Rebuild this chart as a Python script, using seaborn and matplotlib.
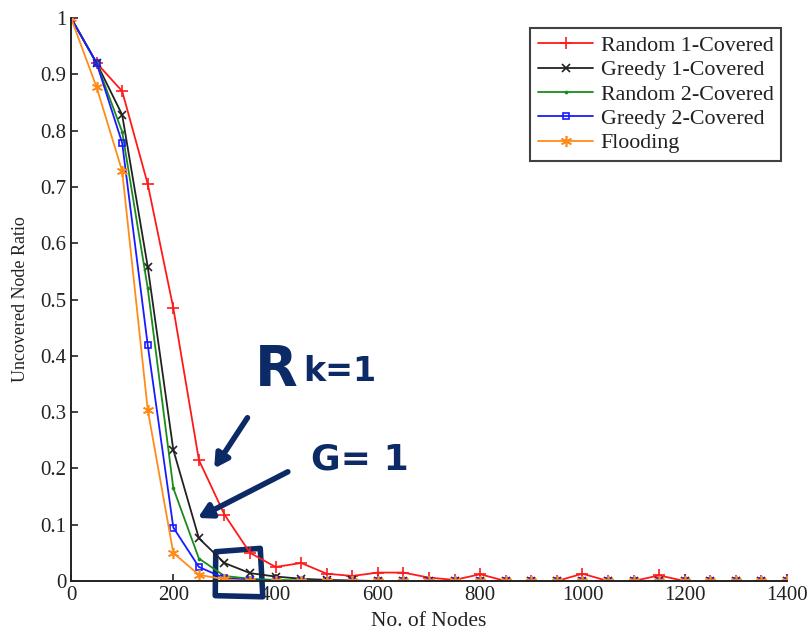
import matplotlib
matplotlib.use("Agg")
import matplotlib.pyplot as plt
import seaborn as sns
import numpy as np
from matplotlib.ticker import FuncFormatter
from matplotlib.patches import Polygon

nodes = list(range(0, 1401, 50))

random1 = [1.0, 0.92, 0.87, 0.705, 0.485, 0.215, 0.118, 0.05, 0.025, 0.032, 0.013, 0.009,
           0.015, 0.015, 0.006, 0.002, 0.012, 0.0, 0.0, 0.0, 0.013, 0.0, 0.0, 0.01,
           0.0, 0.0, 0.0, 0.0, 0.0]
greedy1 = [1.0, 0.92, 0.828, 0.558, 0.233, 0.076, 0.032, 0.014, 0.008, 0.004, 0.002, 0.001,
           0.0, 0.0, 0.0, 0.0, 0.0, 0.0, 0.0, 0.0, 0.0, 0.0, 0.0, 0.0,
           0.0, 0.0, 0.0, 0.0, 0.0]
random2 = [1.0, 0.92, 0.798, 0.52, 0.165, 0.04, 0.009, 0.004, 0.002, 0.001, 0.0, 0.0,
           0.0, 0.0, 0.0, 0.0, 0.0, 0.0, 0.0, 0.0, 0.0, 0.0, 0.0, 0.0,
           0.0, 0.0, 0.0, 0.0, 0.0]
greedy2 = [1.0, 0.92, 0.778, 0.419, 0.095, 0.025, 0.005, 0.002, 0.0, 0.0, 0.0, 0.0,
           0.0, 0.0, 0.0, 0.0, 0.0, 0.0, 0.0, 0.0, 0.0, 0.0, 0.0, 0.0,
           0.0, 0.0, 0.0, 0.0, 0.0]
flooding = [1.0, 0.877, 0.728, 0.304, 0.05, 0.011, 0.003, 0.0, 0.0, 0.0, 0.0, 0.0,
            0.0, 0.0, 0.0, 0.0, 0.0, 0.0, 0.0, 0.0, 0.0, 0.0, 0.0, 0.0,
            0.0, 0.0, 0.0, 0.0, 0.0]

labels = ["Random 1-Covered", "Greedy 1-Covered", "Random 2-Covered",
          "Greedy 2-Covered", "Flooding"]
series = [random1, greedy1, random2, greedy2, flooding]
colors = ["#ff1a1a", "#222222", "#1a8c1a", "#1a1aff", "#ff8c1a"]
markers = ["+", "x", ".", "s", (6, 2, 0)]
msizes = [9, 6, 3, 5, 8]

xticks = list(range(0, 1401, 200))
yticks = [round(v * 0.1, 1) for v in range(0, 11)]

sns.set_style("ticks")
plt.rcParams["font.family"] = ["Liberation Serif", "DejaVu Serif"]
plt.rcParams["mathtext.fontset"] = "stix"

fig = plt.figure(figsize=(8.09, 6.31), dpi=100)
ax = fig.add_axes([0.0878, 0.0792, 0.885, 0.8923])

for lab, vals, c, m, ms in zip(labels, series, colors, markers, msizes):
    kw = dict(markerfacecolor="none") if m == "s" else {}
    sns.lineplot(x=nodes, y=vals, ax=ax, color=c, marker=m, markersize=ms,
                 markeredgecolor=c, markeredgewidth=1.2, linewidth=1.3,
                 label=lab, **kw)

ax.set_xlim(0, 1400)
ax.set_ylim(0, 1)
ax.set_xticks(xticks)
ax.set_yticks(yticks)
ax.yaxis.set_major_formatter(FuncFormatter(lambda v, p: "%g" % v))
ax.tick_params(direction="in", length=5, width=1.2, labelsize=15, colors="#222222")
for s in ["top", "right"]:
    ax.spines[s].set_visible(False)
for s in ["left", "bottom"]:
    ax.spines[s].set_linewidth(1.4)
    ax.spines[s].set_color("#222222")

ax.set_xlabel("No. of Nodes", fontsize=15.5, color="#222222", labelpad=5)
ax.set_ylabel("Uncovered Node Ratio", fontsize=13, color="#222222", labelpad=8)

leg = ax.legend(loc="upper right", bbox_to_anchor=(0.998, 0.99), fontsize=15.8,
                frameon=True, fancybox=False, edgecolor="#111111",
                handlelength=2.5, handletextpad=0.35, labelspacing=0.18,
                borderpad=0.35, borderaxespad=0.2)
leg.get_frame().set_linewidth(1.5)
for t in leg.get_texts():
    t.set_color("#222222")

# Handwritten-style annotations
ink = "#0b2a66"
ax.text(360, 0.375, "R", fontsize=40, color=ink, fontweight="bold",
        family="DejaVu Sans", va="center", ha="left")
ax.text(455, 0.372, "k=1", fontsize=24, color=ink, fontweight="bold",
        family="DejaVu Sans", va="center", ha="left")
ax.text(470, 0.215, "G= 1", fontsize=26, color=ink, fontweight="bold",
        family="DejaVu Sans", va="center", ha="left", clip_on=False)
ax.annotate("", xy=(280, 0.2), xytext=(345, 0.29),
            arrowprops=dict(arrowstyle="-|>,head_length=0.8,head_width=0.45",
                            color=ink, lw=4, shrinkA=0, shrinkB=0))
ax.annotate("", xy=(248, 0.112), xytext=(424, 0.194),
            arrowprops=dict(arrowstyle="-|>,head_length=0.8,head_width=0.45",
                            color=ink, lw=4, shrinkA=0, shrinkB=0))
box = Polygon([(283, 0.052), (370, 0.058), (375, -0.028), (282, -0.026)],
              closed=True, fill=False, edgecolor=ink, linewidth=4,
              clip_on=False, joinstyle="round")
ax.add_patch(box)

fig.savefig("out.png", dpi=100)
